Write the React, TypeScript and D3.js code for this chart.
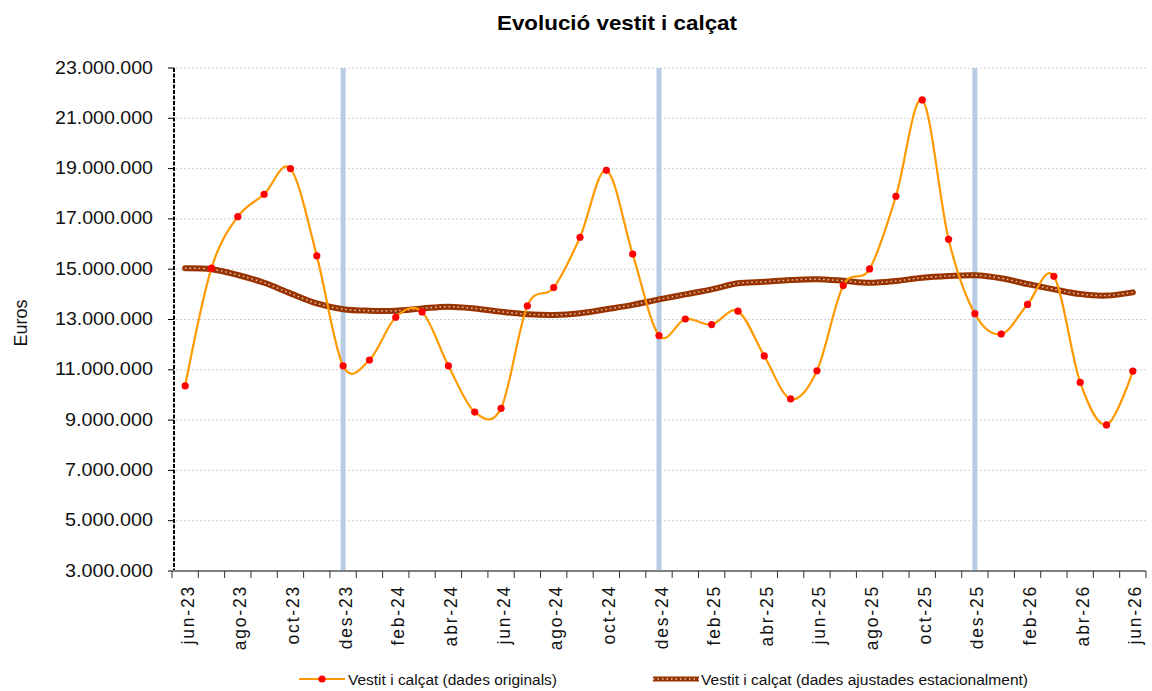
import * as d3 from "d3";

const months = [
  "jun-23", "jul-23", "ago-23", "set-23", "oct-23", "nov-23", "des-23",
  "gen-24", "feb-24", "mar-24", "abr-24", "mai-24", "jun-24", "jul-24",
  "ago-24", "set-24", "oct-24", "nov-24", "des-24", "gen-25", "feb-25",
  "mar-25", "abr-25", "mai-25", "jun-25", "jul-25", "ago-25", "set-25",
  "oct-25", "nov-25", "des-25", "gen-26", "feb-26", "mar-26", "abr-26",
  "mai-26", "jun-26"
];

// dades originals (euros)
const original = [
  10360000, 15040000, 17090000, 17980000, 19000000, 15530000, 11160000,
  11390000, 13090000, 13300000, 11160000, 9320000, 9470000, 13540000,
  14270000, 16270000, 18930000, 15600000, 12360000, 13020000, 12800000,
  13330000, 11550000, 9840000, 10960000, 14350000, 15010000, 17900000,
  21730000, 16190000, 13230000, 12420000, 13600000, 14720000, 10500000,
  8810000, 10950000
];

// dades ajustades estacionalment
const adjusted = [
  15040000, 15000000, 14770000, 14460000, 14040000, 13640000, 13410000,
  13350000, 13350000, 13440000, 13510000, 13440000, 13310000, 13210000,
  13180000, 13250000, 13410000, 13580000, 13800000, 14000000, 14200000,
  14440000, 14500000, 14570000, 14600000, 14540000, 14460000, 14530000,
  14660000, 14730000, 14760000, 14640000, 14410000, 14200000, 14010000,
  13950000, 14080000
];

const markerMonths = ["des-23", "des-24", "des-25"];
const yTicks = d3.range(3000000, 23000001, 2000000);

const W = 1152;
const H = 691;
const left = 172;
const right = 1146;
const top = 68;
const bottom = 571;
const font = "'Liberation Sans', Arial, sans-serif";

const fmt = (v: number) => d3.format(",")(v).replace(/,/g, ".");

export default function App() {
  const x = d3.scaleBand<string>().domain(months).range([left, right]);
  const cx = (m: string) => (x(m) ?? 0) + x.bandwidth() / 2;
  const y = d3.scaleLinear().domain([3000000, 23000000]).range([bottom, top]);

  const smooth = d3
    .line<number>()
    .x((_, i) => cx(months[i]))
    .y((d) => y(d))
    .curve(d3.curveCardinal.tension(0));

  const boundaries = months.map((m) => x(m) ?? 0).concat([right]);

  return (
    <svg
      width={W}
      height={H}
      style={{ position: "absolute", left: 0, top: 0, background: "#fff" }}
      fontFamily={font}
    >
      <rect width={W} height={H} fill="#fff" />
      <text x={497} y={30} fontSize={21} fontWeight="bold" textLength={240} lengthAdjust="spacingAndGlyphs">
        Evolució vestit i calçat
      </text>

      {/* graella */}
      {yTicks.map((t) => (
        <line key={t} x1={left} x2={right} y1={y(t)} y2={y(t)} stroke="#d0d0d0" strokeDasharray="2,2" />
      ))}

      {/* marques de desembre */}
      {markerMonths.map((m) => (
        <line key={m} x1={cx(m)} x2={cx(m)} y1={top} y2={bottom} stroke="#b8cce4" strokeWidth={5} />
      ))}

      {/* eix Y */}
      <line x1={left + 2} x2={left + 2} y1={top} y2={bottom} stroke="#000" strokeWidth={2} strokeDasharray="4,1.5" />
      {yTicks.map((t) => (
        <g key={t}>
          <line x1={left - 4} x2={left + 2} y1={y(t)} y2={y(t)} stroke="#000" />
          <text
            x={153 - 98}
            y={y(t) + 5.5}
            fontSize={18.5}
            textLength={t >= 10000000 ? 98 : 88}
            lengthAdjust="spacingAndGlyphs"
            dx={t >= 10000000 ? 0 : 10}
            fill="#111"
          >
            {fmt(t)}
          </text>
        </g>
      ))}
      <text transform={`translate(27,323) rotate(-90)`} textAnchor="middle" fontSize={18} fill="#111">
        Euros
      </text>

      {/* eix X */}
      <line x1={left} x2={right} y1={bottom} y2={bottom} stroke="#808080" strokeWidth={2} />
      {boundaries.map((b, i) => (
        <line key={i} x1={b} x2={b} y1={bottom} y2={bottom + 7} stroke="#333" />
      ))}
      {months.map((m, i) =>
        i % 2 === 0 ? (
          <text
            key={m}
            transform={`translate(${cx(m) + 8.5},585) rotate(-90)`}
            textAnchor="end"
            fontSize={17.5}
            letterSpacing={1.8}
            fill="#111"
          >
            {m}
          </text>
        ) : null
      )}

      {/* sèrie ajustada */}
      <path d={smooth(adjusted) ?? ""} fill="none" stroke="#993300" strokeWidth={6} strokeLinecap="round" />
      <path d={smooth(adjusted) ?? ""} fill="none" stroke="#fff" strokeOpacity={0.75} strokeWidth={1.4} strokeDasharray="1.5,3" />

      {/* sèrie original */}
      <path d={smooth(original) ?? ""} fill="none" stroke="#ff9900" strokeWidth={2.2} />
      {original.map((v, i) => (
        <circle key={i} cx={cx(months[i])} cy={y(v)} r={3.6} fill="#ff0000" />
      ))}

      {/* llegenda */}
      <line x1={299} x2={345} y1={679} y2={679} stroke="#ff9900" strokeWidth={2.2} />
      <circle cx={322} cy={679} r={3.6} fill="#ff0000" />
      <text x={348} y={684.5} fontSize={15.4} textLength={209} lengthAdjust="spacingAndGlyphs" fill="#111">
        Vestit i calçat (dades originals)
      </text>
      <line x1={653} x2={699} y1={679} y2={679} stroke="#993300" strokeWidth={5} />
      <line x1={653} x2={699} y1={679} y2={679} stroke="#fff" strokeOpacity={0.75} strokeWidth={1.3} strokeDasharray="1.5,3" />
      <text x={701} y={684.5} fontSize={15.4} textLength={327} lengthAdjust="spacingAndGlyphs" fill="#111">
        Vestit i calçat (dades ajustades estacionalment)
      </text>
    </svg>
  );
}
